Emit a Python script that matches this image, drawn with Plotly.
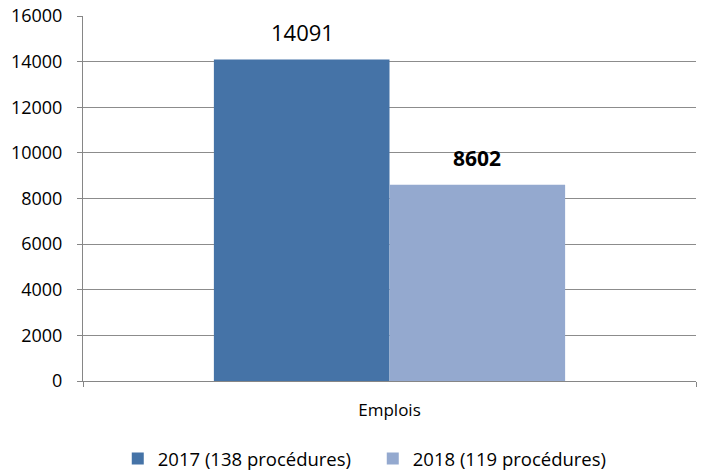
import plotly.graph_objects as go

categories = ["Emplois"]
series_names = ["2017 (138 procédures)", "2018 (119 procédures)"]
values_2017 = [14091]
values_2018 = [8602]
colors = ["#4573A7", "#94A9CF"]
y_ticks = [0, 2000, 4000, 6000, 8000, 10000, 12000, 14000, 16000]
y_tick_labels = [str(v) for v in y_ticks]

FONT = "Open Sans"

fig = go.Figure()
fig.add_trace(go.Bar(x=categories, y=values_2017, name=series_names[0],
                     marker=dict(color=colors[0], line=dict(width=0))))
fig.add_trace(go.Bar(x=categories, y=values_2018, name=series_names[1],
                     marker=dict(color=colors[1], line=dict(width=0))))

fig.add_annotation(x=categories[0], y=values_2017[0], text=str(values_2017[0]),
                   showarrow=False, xshift=-87, yshift=28, yanchor="middle",
                   font=dict(family=FONT, size=22, color="#000000"))
fig.add_annotation(x=categories[0], y=values_2018[0], text="<b>%d</b>" % values_2018[0],
                   showarrow=False, xshift=87, yshift=27, yanchor="middle",
                   font=dict(family=FONT, size=21, color="#000000"))

fig.update_layout(
    width=704, height=470,
    margin=dict(l=83, r=8, t=16, b=89, autoexpand=False),
    paper_bgcolor="white", plot_bgcolor="white",
    barmode="group", bargap=0.427, bargroupgap=0,
    font=dict(family=FONT, size=17, color="#000000"),
    legend=dict(orientation="h", x=0.5295, xanchor="center", xref="container",
                y=0.0234, yanchor="middle", yref="container",
                entrywidth=210, entrywidthmode="pixels",
                font=dict(family=FONT, size=18.5), traceorder="normal"),
    xaxis=dict(showline=True, linecolor="#868686", linewidth=1,
               ticks="outside", tickson="boundaries", ticklen=5, tickcolor="#868686",
               tickfont=dict(family=FONT, size=17), showgrid=False,
               ticklabelstandoff=14, automargin=False),
    yaxis=dict(range=[0, 16000], tickvals=y_ticks, ticktext=y_tick_labels,
               showline=True, linecolor="#868686",
               linewidth=1, ticks="outside", ticklen=5, tickcolor="#868686",
               showgrid=True, gridcolor="#8C8C8C", gridwidth=1,
               tickfont=dict(family=FONT, size=18), zeroline=False,
               ticklabelstandoff=11, automargin=False, ticklabeloverflow="allow"),
)

# remove the browser's default 8px body margin so the figure fills the window
fig.write_html("out.html", config={"displayModeBar": False},
               post_script="document.body.style.margin='0';")
